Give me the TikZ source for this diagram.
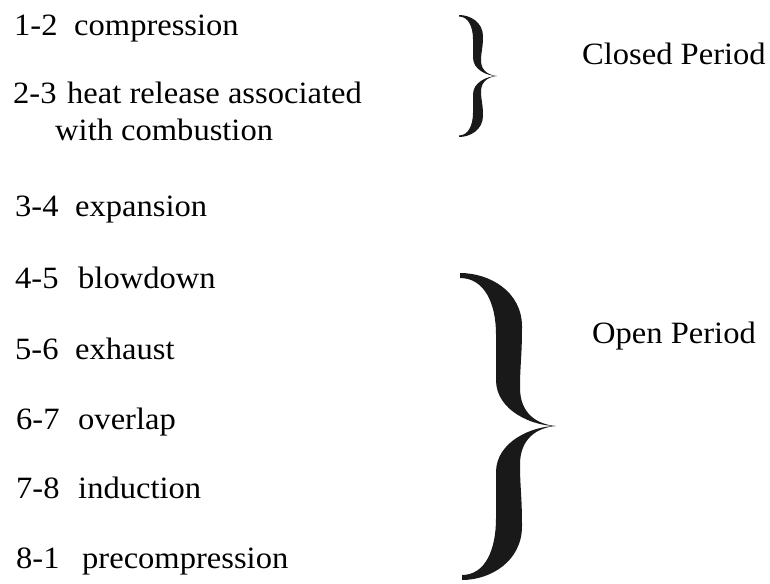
\documentclass[tikz,border=0pt]{standalone}
\usepackage{fontspec}
\setmainfont[FakeStretch=1.05]{Liberation Serif}

% One half of a curly brace, drawn as a filled shape relative to the brace's tip
% row: #1 left end x, #2 arm centre x, #3 arm thickness, #4 tip x,
% #5 half height, #6 thickness of the blunt end
\newcommand\halfbrace[6]{%
  \fill[braceink] (#1,-#5)
    .. controls ({#1+0.6*(#2-#1)},-#5) and ({#2+#3/2},{-0.88*#5}) .. ({#2+#3/2},{-0.65*#5})
    .. controls ({#2+#3/2},{-0.45*#5}) and ({#2+#3/2-2},{-0.4*#5}) .. ({#2+#3/2-2},{-0.25*#5})
    .. controls ({#2+#3/2-2},{-0.08*#5}) and ({#4-0.4*(#4-#2)},{-0.01*#5}) .. (#4,0)
    .. controls ({#4-0.5*(#4-#2)},0) and ({#2-#3/2},{-0.1*#5}) .. ({#2-#3/2},{-0.3*#5})
    .. controls ({#2-#3/2},{-0.45*#5}) and ({#2-#3/2},{-0.5*#5}) .. ({#2-#3/2},{-0.6*#5})
    .. controls ({#2-#3/2},{-0.8*#5}) and ({#1+0.5*(#2-#1)},{-#5+#6}) .. (#1,{-#5+#6})
    -- cycle;}

\begin{document}
\begin{tikzpicture}[x=1pt,y=-1pt,
  lbl/.style={anchor=base west,inner sep=0pt,text=black,
              font=\fontsize{31}{31}\selectfont},
  braceink/.style={fill=black!90,draw=none}]
\useasboundingbox (0,0) rectangle (770,583);

% stage list
\node[lbl] (n12) at (14,36)  {1-2};
\node[lbl] (d12) at (74,36)  {compression};
\node[lbl] (n23) at (13,104) {2-3};
\node[lbl] (d23) at (67,104) {heat release associated};
\node[lbl] (d23b) at (55,140) {with combustion};
\node[lbl] (n34) at (15,216) {3-4};
\node[lbl] (d34) at (75,216) {expansion};
\node[lbl] (n45) at (15,288) {4-5};
\node[lbl] (d45) at (78,288) {blowdown};
\node[lbl] (n56) at (15,359) {5-6};
\node[lbl] (d56) at (75,359) {exhaust};
\node[lbl] (n67) at (16,429) {6-7};
\node[lbl] (d67) at (78,429) {overlap};
\node[lbl] (n78) at (16,498) {7-8};
\node[lbl] (d78) at (78,498) {induction};
\node[lbl] (n81) at (16,568) {8-1};
\node[lbl] (d81) at (82,568) {precompression};

% closed-period brace
\begin{scope}[shift={(0,76)}]
  \halfbrace{459}{478}{10}{497}{61}{1.5}
  \begin{scope}[yscale=-1]
    \halfbrace{459}{478}{10}{497}{61}{1.5}
  \end{scope}
\end{scope}
\node[lbl] (closed) at (582,65) {Closed Period};

% open-period brace
\begin{scope}[shift={(0,426)}]
  \halfbrace{460}{509}{26}{556}{153}{5}
  \begin{scope}[yscale=-1]
    \halfbrace{462}{509}{26}{556}{154}{5}
  \end{scope}
\end{scope}
\node[lbl] (open) at (592,343) {Open Period};
\end{tikzpicture}
\end{document}
